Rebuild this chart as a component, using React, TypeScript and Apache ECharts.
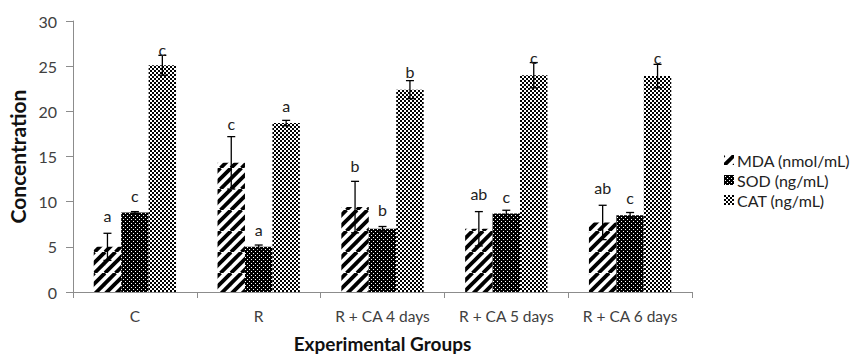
import React, { useEffect, useRef } from "react";
import * as echarts from "echarts";

const categories = ["C", "R", "R + CA 4 days", "R + CA 5 days", "R + CA 6 days"];
const seriesNames = ["MDA (nmol/mL)", "SOD (ng/mL)", "CAT (ng/mL)"];
const mdaValues = [5.0, 14.3, 9.4, 7.0, 7.7];
const mdaErrors = [1.5, 2.9, 2.85, 1.9, 1.9];
const sodValues = [8.8, 5.0, 7.0, 8.7, 8.5];
const sodErrors = [0.1, 0.2, 0.25, 0.35, 0.3];
const catValues = [25.1, 18.7, 22.4, 24.0, 23.9];
const catErrors = [1.1, 0.3, 1.0, 1.4, 1.3];
const mdaLetters = ["a", "c", "b", "ab", "ab"];
const sodLetters = ["c", "a", "b", "c", "c"];
const catLetters = ["c", "a", "b", "c", "c"];
// letter annotation heights (in value units)
const mdaLetterAt = [8.5, 18.7, 14.0, 10.9, 11.6];
const sodLetterAt = [10.7, 6.9, 9.1, 10.6, 10.5];
const catLetterAt = [26.9, 20.7, 24.4, 26.0, 26.0];
const yTicks = { min: 0, max: 30, interval: 5 };

const FONT = "Lato";
const BAR_CAT_GAP = 0.335;

function stripePattern() {
  const S = 10.5;
  const c = document.createElement("canvas");
  c.width = 21;
  c.height = 21;
  const ctx = c.getContext("2d")!;
  ctx.fillStyle = "#fff";
  ctx.fillRect(0, 0, 21, 21);
  ctx.strokeStyle = "#000";
  ctx.lineWidth = 3.8;
  for (let k = -2; k <= 3; k++) {
    ctx.beginPath();
    ctx.moveTo(k * S, 21);
    ctx.lineTo(k * S + 21, 0);
    ctx.stroke();
  }
  return c;
}

function sodPattern() {
  const c = document.createElement("canvas");
  c.width = 4;
  c.height = 4;
  const ctx = c.getContext("2d")!;
  ctx.fillStyle = "#000";
  ctx.fillRect(0, 0, 4, 4);
  ctx.fillStyle = "#fff";
  ctx.fillRect(1, 1, 1, 1);
  ctx.fillRect(3, 3, 1, 1);
  return c;
}

function catPattern() {
  const c = document.createElement("canvas");
  c.width = 4;
  c.height = 4;
  const ctx = c.getContext("2d")!;
  ctx.fillStyle = "#fff";
  ctx.fillRect(0, 0, 4, 4);
  ctx.fillStyle = "#000";
  ctx.fillRect(0, 0, 2, 2);
  ctx.fillRect(2, 2, 2, 2);
  return c;
}

export default function App() {
  const ref = useRef<HTMLDivElement>(null);
  useEffect(() => {
    document.body.style.margin = "0";
    const chart = echarts.init(ref.current!, null, { renderer: "svg" });

    const values = [mdaValues, sodValues, catValues];
    const errors = [mdaErrors, sodErrors, catErrors];
    const letters = [mdaLetters, sodLetters, catLetters];
    const letterAt = [mdaLetterAt, sodLetterAt, catLetterAt];
    const errData: number[][] = [];
    const errLetters: string[] = [];
    for (let s = 0; s < 3; s++) {
      for (let i = 0; i < categories.length; i++) {
        errData.push([i, s, values[s][i], errors[s][i], letterAt[s][i]]);
        errLetters.push(letters[s][i]);
      }
    }

    const patterns = [stripePattern(), sodPattern(), catPattern()];
    const axisColor = "#8c8c8c";
    const labelColor = "#404040";

    chart.setOption({
      animation: false,
      grid: { left: 73, right: 167, top: 21, bottom: 63 },
      legend: {
        orient: "vertical",
        left: 719,
        top: 147,
        itemWidth: 10,
        itemHeight: 10,
        itemGap: 4,
        icon: "rect",
        data: seriesNames,
        textStyle: { fontFamily: FONT, fontSize: 16, color: "#222", padding: [0, 0, 0, -2] },
      },
      xAxis: {
        type: "category",
        data: categories,
        axisLine: { lineStyle: { color: axisColor, width: 1 } },
        axisTick: { show: true, length: 6, lineStyle: { color: axisColor } },
        axisLabel: { interval: 0, fontFamily: FONT, fontSize: 15.5, color: labelColor, margin: 16 },
      },
      yAxis: {
        type: "value",
        min: yTicks.min,
        max: yTicks.max,
        interval: yTicks.interval,
        splitLine: { show: false },
        axisLine: { show: true, lineStyle: { color: axisColor, width: 1 } },
        axisTick: { show: true, length: 7, lineStyle: { color: axisColor } },
        axisLabel: { fontFamily: FONT, fontSize: 16, color: labelColor, margin: 16 },
      },
      graphic: [
        {
          type: "text",
          x: 17,
          y: 156.5,
          rotation: Math.PI / 2,
          style: {
            text: "Concentration",
            fontFamily: FONT,
            fontWeight: "bold",
            fontSize: 21,
            fill: "#111",
            align: "center",
            verticalAlign: "middle",
          },
        },
        {
          type: "text",
          x: 382.5,
          y: 343,
          style: {
            text: "Experimental Groups",
            fontFamily: FONT,
            fontWeight: "bold",
            fontSize: 19,
            fill: "#111",
            align: "center",
            verticalAlign: "middle",
          },
        },
      ],
      series: [
        ...seriesNames.map((name, s) => ({
          name,
          type: "bar",
          data: values[s],
          barGap: "0%",
          barCategoryGap: BAR_CAT_GAP * 100 + "%",
          itemStyle: { color: { image: patterns[s], repeat: "repeat" } },
          emphasis: { disabled: true },
        })),
        {
          type: "custom",
          data: errData,
          z: 10,
          silent: true,
          renderItem: (params: any, api: any) => {
            const cat = api.value(0);
            const s = api.value(1);
            const v = api.value(2);
            const e = api.value(3);
            const ly = api.value(4);
            const center = api.coord([cat, 0]);
            const band = api.size([1, 0])[0];
            const barW = (band * (1 - BAR_CAT_GAP)) / 3;
            const x = center[0] + (s - 1) * barW;
            const top = api.coord([cat, v + e])[1];
            const bot = api.coord([cat, v - e])[1];
            const ty = api.coord([cat, ly])[1];
            const lineStyle = { stroke: "#000", lineWidth: 1.3 };
            const capHalf = 4;
            return {
              type: "group",
              children: [
                { type: "line", shape: { x1: x, y1: top, x2: x, y2: bot }, style: lineStyle },
                { type: "line", shape: { x1: x - capHalf, y1: top, x2: x + capHalf, y2: top }, style: lineStyle },
                { type: "line", shape: { x1: x - capHalf, y1: bot, x2: x + capHalf, y2: bot }, style: lineStyle },
                {
                  type: "text",
                  x: x,
                  y: ty,
                  style: {
                    text: errLetters[params.dataIndex],
                    fontFamily: FONT,
                    fontSize: 16,
                    fill: "#222",
                    align: "center",
                    verticalAlign: "middle",
                  },
                },
              ],
            };
          },
        },
      ],
    });
    return () => chart.dispose();
  }, []);
  return <div ref={ref} style={{ width: 859, height: 355 }} />;
}
